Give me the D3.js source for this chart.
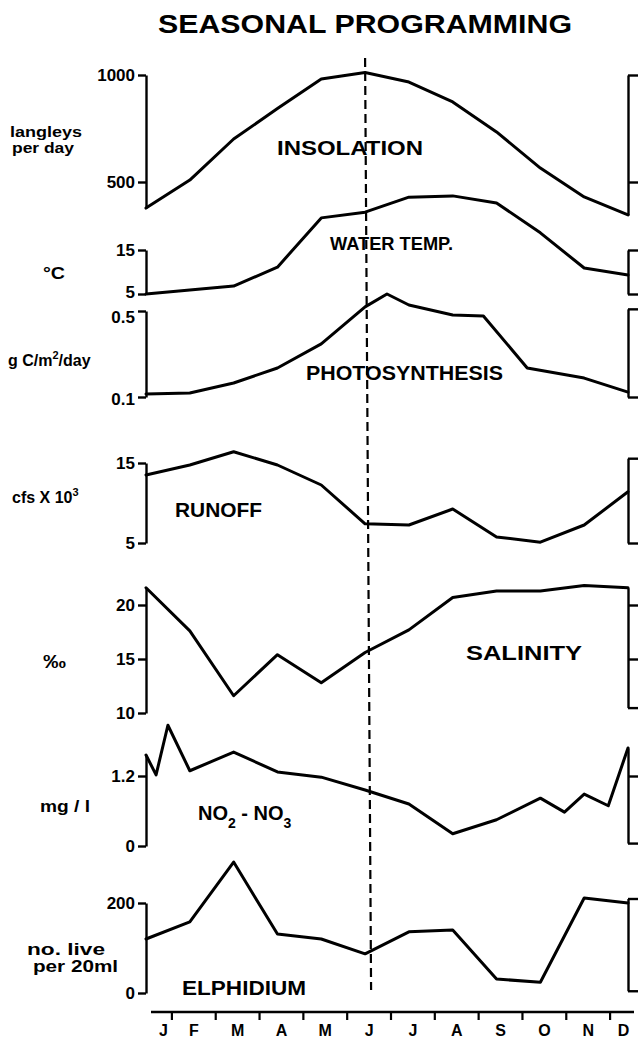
<!DOCTYPE html>
<html><head><meta charset="utf-8">
<script src="https://cdn.jsdelivr.net/npm/d3@7"></script>
<style>
body{margin:0;background:#fff}
text{font-family:"Liberation Sans",Arial,sans-serif;font-weight:bold;fill:#000}
</style>
</head><body>
<svg id="c" width="641" height="1042"></svg>
<script>
// ---------- data ----------
const months = ["J","F","M","A","M","J","J","A","S","O","N","D"];
const monthIdx = d3.range(12);

const insolation = [378, 509, 701, 843, 981, 1012, 967, 874, 734, 565, 430, 346];      // langleys per day
const waterTemp  = [5.0, 5.9, 6.8, 11.1, 22.3, 23.6, 27.0, 27.3, 25.7, 18.9, 10.9, 9.3]; // deg C
const photoT     = [0, 1, 2, 3, 4, 5, 5.5, 6, 7, 7.7, 8.7, 10, 11];
const photo      = [0.114, 0.119, 0.165, 0.235, 0.347, 0.519, 0.579, 0.528, 0.481, 0.477, 0.235, 0.188, 0.123]; // g C/m2/day
const runoff     = [13.5, 14.75, 16.4, 14.75, 12.25, 7.4, 7.25, 9.25, 5.75, 5.1, 7.25, 11.4]; // cfs x 10^3
const salinity   = [21.6, 17.6, 11.6, 15.4, 12.8, 15.6, 17.7, 20.7, 21.3, 21.3, 21.8, 21.6]; // per mille
const nitrateT   = [0, 0.23, 0.5, 1, 2, 3, 4, 5, 6, 7, 8, 9, 9.55, 10, 10.55, 11];
const nitrate    = [1.56, 1.22, 2.07, 1.29, 1.61, 1.27, 1.18, 0.96, 0.72, 0.21, 0.45, 0.82, 0.58, 0.89, 0.69, 1.68]; // mg/l
const elphidium  = [120, 158, 291, 131, 120, 87, 136, 140, 31, 24, 211, 200]; // no. live per 20 ml

const insolTicks = [500, 1000];
const tempTicks  = [5, 15];
const photoTicks = [0.1, 0.5];
const runoffTicks = [5, 15];
const salTicks   = [10, 15, 20];
const nitTicks   = [0, 1.2];
const elphTicks  = [0, 200];

// ---------- layout ----------
const svg = d3.select("#c");
const x = d3.scaleLinear().domain([0, 11]).range([146, 628]);

const panels = [
  {t: monthIdx, v: insolation, ref: [500, 1000], px: [182, 75], left: [insolation[0], 1000], lt: insolTicks, right: [insolation[11], 1000], rt: [500, 1000], fmt: d3.format("d")},
  {t: monthIdx, v: waterTemp, ref: [5, 15], px: [294, 250], left: [5, 15], lt: tempTicks, right: [5, 15], rt: [5, 15], fmt: d3.format("d"), shift: {5: -2}},
  {t: photoT, v: photo, ref: [0.1, 0.5], px: [397, 311], left: [0.1, 0.5], lt: photoTicks, right: [0.1, 0.51], rt: [0.1, 0.51], fmt: d3.format(".1f"), shift: {0.5: 6, 0.1: 2}},
  {t: monthIdx, v: runoff, ref: [5, 15], px: [543, 463], left: [5, 15], lt: runoffTicks, right: [5, 15.6], rt: [5, 15.6], fmt: d3.format("d")},
  {t: monthIdx, v: salinity, ref: [10, 20], px: [713, 605], left: [10, salinity[0]], lt: salTicks, right: [10.5, salinity[11]], rt: [10.5, 15, 20], fmt: d3.format("d")},
  {t: nitrateT, v: nitrate, ref: [0, 1.2], px: [846, 776], left: [0, nitrate[0]], lt: nitTicks, right: [0.05, nitrate[nitrate.length-1]], rt: [0.05, 1.2], fmt: d => d === 0 ? "0" : d3.format(".1f")(d)},
  {t: monthIdx, v: elphidium, ref: [0, 200], px: [993, 903], left: [0, 200], lt: elphTicks, right: [5, 210], rt: [5, 210], fmt: d3.format("d")}
];

panels.forEach(p => {
  const y = d3.scaleLinear().domain(p.ref).range(p.px);
  const g = svg.append("g");
  // left axis
  const yl = y.copy().domain(p.left).range(p.left.map(y));
  g.append("g").attr("transform", `translate(${x(0)},0)`)
    .call(d3.axisLeft(yl).tickValues(p.lt).tickFormat(p.fmt).tickSize(8).tickSizeOuter(0).tickPadding(3))
    .call(a => { a.selectAll("path,line").attr("stroke", "#000").attr("stroke-width", 2.4);
                 a.selectAll("text").style("font-size", "17px").attr("fill", "#000")
                   .attr("y", d => (p.shift && p.shift[d]) || 0); });
  // right bracket
  const yr = y.copy().domain(p.right).range(p.right.map(y));
  g.append("g").attr("transform", `translate(${x(11)},0)`)
    .call(d3.axisRight(yr).tickValues(p.rt).tickFormat("").tickSize(10).tickSizeOuter(0))
    .call(a => a.selectAll("path,line").attr("stroke", "#000").attr("stroke-width", 2.4));
  // data line
  const pts = p.t.map((t, i) => [t, p.v[i]]);
  g.append("path").datum(pts)
    .attr("fill", "none").attr("stroke", "#000").attr("stroke-width", 3)
    .attr("stroke-linejoin", "round").attr("stroke-linecap", "round")
    .attr("d", d3.line().x(d => x(d[0])).y(d => y(d[1])));
});

// dashed June line
svg.append("line")
  .attr("x1", x(5)).attr("y1", 58).attr("x2", x(5) + 6).attr("y2", 990)
  .attr("stroke", "#000").attr("stroke-width", 2.2).attr("stroke-dasharray", "9,5");

// month axis
const axY = 1012;
svg.append("line").attr("x1", x(0) + 5).attr("x2", x(11) + 6).attr("y1", axY).attr("y2", axY)
  .attr("stroke", "#000").attr("stroke-width", 2.5);
svg.selectAll(".mt").data(d3.range(11)).join("line")
  .attr("x1", d => x(d + 0.5) + 4).attr("x2", d => x(d + 0.5) + 4)
  .attr("y1", axY).attr("y2", axY + 8).attr("stroke", "#000").attr("stroke-width", 2.2);
const lx = i => i === 0 ? x(0.4) : i === 11 ? x(10.9) : x(i) + 4;
svg.selectAll(".ml").data(months).join("text")
  .attr("x", (d, i) => lx(i)).attr("y", 1036).attr("text-anchor", "middle")
  .style("font-size", "16px").text(d => d);

// ---------- text ----------
function label(str, x0, x1, yb, size) {
  return svg.append("text").attr("x", x0).attr("y", yb).style("font-size", size + "px")
    .attr("textLength", x1 - x0).attr("lengthAdjust", "spacingAndGlyphs").text(str);
}
label("SEASONAL PROGRAMMING", 158, 572, 33, 25);
label("INSOLATION", 277, 423, 155, 20);
label("WATER TEMP.", 330, 453, 250, 19);
label("PHOTOSYNTHESIS", 306, 503, 380, 20);
label("RUNOFF", 175, 262, 517, 20);
label("SALINITY", 466, 582, 660, 20);
label("ELPHIDIUM", 182, 306, 995, 20);

// NO2 - NO3 with subscripts
const no = svg.append("text").attr("x", 198).attr("y", 820).style("font-size", "20px");
no.append("tspan").text("NO");
no.append("tspan").attr("dy", 8).style("font-size", "14px").text("2");
no.append("tspan").attr("dy", -8).text(" - NO");
no.append("tspan").attr("dy", 8).style("font-size", "14px").text("3");

// unit labels
label("langleys", 10, 82, 137, 15);
label("per day", 12, 74, 153, 15);
label("°C", 43, 65, 279, 17);
const gc = svg.append("text").attr("x", 8).attr("y", 366).style("font-size", "16px");
gc.append("tspan").text("g C/m");
gc.append("tspan").attr("dy", -7).style("font-size", "11px").text("2");
gc.append("tspan").attr("dy", 7).text("/day");
const cf = svg.append("text").attr("x", 12).attr("y", 503).style("font-size", "16px");
cf.append("tspan").text("cfs X 10");
cf.append("tspan").attr("dy", -7).style("font-size", "11px").text("3");
label("‰", 43, 66, 668, 18);
label("mg / l", 40, 90, 812, 16);
label("no. live", 27, 105, 955, 16);
label("per 20ml", 33, 118, 972, 16);
</script>
</body></html>
